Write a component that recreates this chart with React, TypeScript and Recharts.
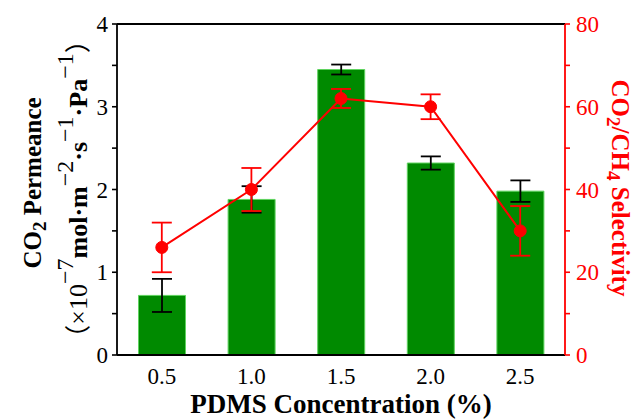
import { ComposedChart, Bar, Line, XAxis, YAxis, ErrorBar, ReferenceLine } from 'recharts'

const categories = ['0.5', '1.0', '1.5', '2.0', '2.5']
const permeance = [0.72, 1.88, 3.45, 2.32, 1.98]
const permeanceErr = [0.2, 0.16, 0.06, 0.08, 0.13]
const selectivity = [26, 40, 62, 60, 30]
const selectivityErr = [6, 5.2, 2.3, 3, 6]
const leftTicks = [0, 0.5, 1, 1.5, 2, 2.5, 3, 3.5, 4]
const rightTicks = [0, 10, 20, 30, 40, 50, 60, 70, 80]

const data = categories.map((c, i) => ({
  conc: c,
  perm: permeance[i],
  permErr: permeanceErr[i],
  sel: selectivity[i],
  selErr: selectivityErr[i],
}))

const FONT = '"Liberation Serif", "Times New Roman", serif'
const CJK = '"Noto Sans CJK SC", sans-serif'
const RED = '#ff0000'

function LeftTick({ x, y, payload }: any) {
  const major = Number.isInteger(payload.value)
  return (
    <g>
      <line x1={x} x2={x - 5} y1={y} y2={y} stroke="#000" strokeWidth={1.6} />
      {major && (
        <text x={x - 9} y={y + 8} textAnchor="end" fontFamily={FONT} fontSize={23} fill="#000">
          {payload.value}
        </text>
      )}
    </g>
  )
}

function RightTick({ x, y, payload }: any) {
  const major = payload.value % 20 === 0
  return (
    <g>
      <line x1={x} x2={x + 5} y1={y} y2={y} stroke={RED} strokeWidth={1.6} />
      {major && (
        <text x={x + 11} y={y + 8} textAnchor="start" fontFamily={FONT} fontSize={23} fill={RED}>
          {payload.value}
        </text>
      )}
    </g>
  )
}

function BottomTick({ x, y, payload }: any) {
  return (
    <text x={x} y={y + 29} textAnchor="middle" fontFamily={FONT} fontSize={23} fill="#000">
      {payload.value}
    </text>
  )
}

function LeftTitle() {
  return (
    <g fontFamily={FONT} fill="#000">
      <text transform="translate(41,183) rotate(-90)" textAnchor="middle" fontSize={25} fontWeight="bold">
        CO<tspan fontSize={19} dy={5}>2</tspan>
        <tspan dy={-5}> Permeance</tspan>
      </text>
      <text transform="translate(87,189) rotate(-90)" textAnchor="middle" fontSize={26} fontWeight="bold">
        <tspan fontWeight="normal" fontFamily={CJK}>（</tspan>
        <tspan fontWeight="normal">×10</tspan>
        <tspan dy={-14} fontSize={24} fontWeight="normal">−7</tspan>
        <tspan dy={14}>mol·m</tspan>
        <tspan dy={-14} fontSize={24} fontWeight="normal">−2</tspan>
        <tspan dy={14}>·s</tspan>
        <tspan dy={-14} fontSize={24} fontWeight="normal">−1</tspan>
        <tspan dy={14}>·Pa</tspan>
        <tspan dy={-14} fontSize={24} fontWeight="normal">−1</tspan>
        <tspan dy={14} fontWeight="normal" fontFamily={CJK}>）</tspan>
      </text>
    </g>
  )
}

function RightTitle() {
  return (
    <text
      transform="translate(612,188) rotate(90)"
      textAnchor="middle"
      fontFamily={FONT}
      fontSize={25}
      fontWeight="bold"
      fill={RED}
    >
      CO<tspan fontSize={19} dy={5}>2</tspan>
      <tspan dy={-5}>/CH</tspan>
      <tspan fontSize={19} dy={5}>4</tspan>
      <tspan dy={-5}> Selectivity</tspan>
    </text>
  )
}

function BottomTitle() {
  return (
    <text x={341} y={413} textAnchor="middle" fontFamily={FONT} fontSize={27} fontWeight="bold" fill="#000">
      PDMS Concentration (%)
    </text>
  )
}

export default function App() {
  return (
    <div style={{ position: 'absolute', left: 0, top: 0, background: '#fff' }}>
      <ComposedChart
        width={633}
        height={420}
        data={data}
        margin={{ top: 24, right: 0, bottom: 0, left: 0 }}
        barCategoryGap="24%"
      >
        <XAxis
          dataKey="conc"
          height={65}
          tickLine={false}
          tickSize={0}
          tickMargin={0}
          tick={<BottomTick />}
          axisLine={{ stroke: '#000', strokeWidth: 1.8 }}
          label={{ content: () => <BottomTitle /> }}
        />
        <YAxis
          yAxisId="left"
          width={117}
          domain={[0, 4]}
          ticks={leftTicks}
          interval={0}
          tickLine={false}
          tickSize={0}
          tickMargin={0}
          tick={<LeftTick />}
          axisLine={{ stroke: '#000', strokeWidth: 1.8 }}
          label={{ content: () => <LeftTitle /> }}
        />
        <YAxis
          yAxisId="right"
          orientation="right"
          width={68}
          domain={[0, 80]}
          ticks={rightTicks}
          interval={0}
          tickLine={false}
          tickSize={0}
          tickMargin={0}
          tick={<RightTick />}
          axisLine={{ stroke: RED, strokeWidth: 1.8 }}
          label={{ content: () => <RightTitle /> }}
        />
        <ReferenceLine yAxisId="left" y={4} stroke="#000" strokeWidth={1.8} />
        <Bar yAxisId="left" dataKey="perm" fill="#008a00" stroke="#5fd35f" strokeWidth={1} isAnimationActive={false}>
          <ErrorBar dataKey="permErr" width={10} stroke="#000" strokeWidth={1.8} />
        </Bar>
        <Line
          yAxisId="right"
          dataKey="sel"
          stroke={RED}
          strokeWidth={2}
          dot={{ r: 6, fill: RED, stroke: RED, strokeWidth: 1 }}
          isAnimationActive={false}
        >
          <ErrorBar dataKey="selErr" width={10} stroke={RED} strokeWidth={1.8} />
        </Line>
      </ComposedChart>
    </div>
  )
}
